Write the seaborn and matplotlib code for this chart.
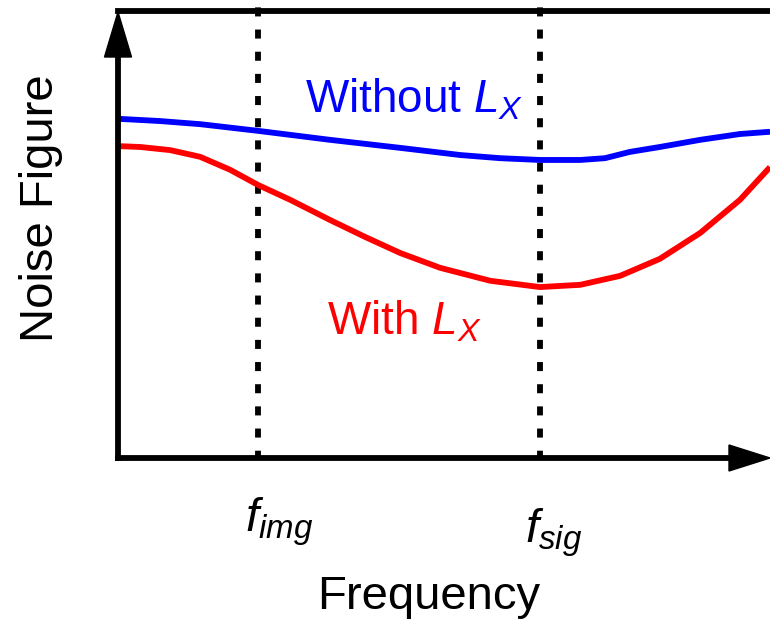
import numpy as np
import pandas as pd
import matplotlib
matplotlib.use("Agg")
import matplotlib.pyplot as plt
from matplotlib.patches import Polygon
import seaborn as sns

# Normalised frequency axis (0..10) and noise figure (arbitrary units, 0..10)
freq_without = [0.0, 0.64, 1.26, 2.15, 3.25, 4.33, 5.25, 5.86, 6.47, 7.09, 7.47, 7.85, 8.31, 8.93, 9.54, 10.0]
nf_without = [7.58, 7.53, 7.46, 7.31, 7.11, 6.93, 6.77, 6.70, 6.66, 6.66, 6.70, 6.84, 6.95, 7.11, 7.24, 7.29]

freq_with = [0.0, 0.34, 0.80, 1.26, 1.72, 2.15, 2.64, 3.25, 3.79, 4.33, 4.94, 5.71, 6.47, 7.09, 7.70, 8.31, 8.93, 9.54, 10.0]
nf_with = [6.97, 6.95, 6.88, 6.73, 6.44, 6.10, 5.77, 5.32, 4.94, 4.58, 4.25, 3.96, 3.82, 3.87, 4.07, 4.45, 5.03, 5.77, 6.50]

marker_freqs = [2.15, 6.47]
marker_labels = [r"$f_{img}$", r"$f_{sig}$"]
marker_label_pos = [(1.95, -1.65), (6.24, -1.88)]

series_labels = ["Without $L_X$", "With $L_X$"]
series_colors = ["#0000FF", "#FF0000"]
series_label_pos = [(2.87, 7.71), (3.21, 2.75)]

sns.set_theme(style="white")
plt.rcParams["font.family"] = ["Liberation Sans", "DejaVu Sans"]
plt.rcParams["mathtext.fontset"] = "custom"
plt.rcParams["mathtext.rm"] = "Liberation Sans"
plt.rcParams["mathtext.it"] = "Liberation Sans:italic"

LW = 4.2

fig = plt.figure(figsize=(7.7, 6.21), dpi=100)
ax = fig.add_axes([118 / 770, 163 / 621, 652 / 770, 447.5 / 621])

df = pd.concat([
    pd.DataFrame({"freq": freq_without, "nf": nf_without, "case": series_labels[0]}),
    pd.DataFrame({"freq": freq_with, "nf": nf_with, "case": series_labels[1]}),
])
sns.lineplot(data=df, x="freq", y="nf", hue="case", palette=series_colors,
             linewidth=LW, legend=False, ax=ax, sort=False, estimator=None,
             clip_on=False, solid_joinstyle="round", solid_capstyle="butt")

ax.set_xlim(0, 10)
ax.set_ylim(0, 10)
ax.set_xticks([])
ax.set_yticks([])

# Frequency markers
for fx in marker_freqs:
    ax.axvline(fx, ymin=0, ymax=1.012, color="black", linewidth=LW,
               linestyle=(0.3, (1.55, 2.25)), clip_on=False, zorder=1)

for lab, (lx, ly) in zip(marker_labels, marker_label_pos):
    ax.text(lx, ly, lab, fontsize=34, ha="left", va="baseline", color="black")

for lab, col, (lx, ly) in zip(series_labels, series_colors, series_label_pos):
    ax.text(lx, ly, lab, fontsize=33, ha="left", va="baseline", color=col)

# Frame: top border plus arrow-headed left and bottom axes
ax.spines["right"].set_visible(False)
for side in ["top", "left", "bottom"]:
    ax.spines[side].set_linewidth(LW)
    ax.spines[side].set_color("black")
    ax.spines[side].set_capstyle("projecting")
    ax.spines[side].set_zorder(3)
ax.spines["bottom"].set_bounds(0, (730 - 118) / 65.2)
ax.spines["left"].set_bounds(0, (458 - 57) / 44.75)

W, H = 770, 621
y_head = Polygon([(118 / W, (H - 12) / H), (104.5 / W, (H - 57) / H), (131.5 / W, (H - 57) / H)],
                 closed=True, transform=fig.transFigure, color="black", zorder=5)
x_head = Polygon([(770 / W, (H - 458) / H), (729 / W, (H - 445) / H), (729 / W, (H - 471) / H)],
                 closed=True, transform=fig.transFigure, color="black", zorder=5)
fig.add_artist(y_head)
fig.add_artist(x_head)

ax.set_xlabel("Frequency", fontsize=34, color="black")
ax.xaxis.set_label_coords(311 / 652, (458 - 609) / 447.5)
ax.xaxis.label.set_va("baseline")
ax.set_ylabel("Noise Figure", fontsize=34, color="black")
ax.yaxis.set_label_coords((41 - 118) / 652, (458 - 208) / 447.5)
ax.yaxis.label.set_va("center")

fig.savefig("out.png", dpi=100)
